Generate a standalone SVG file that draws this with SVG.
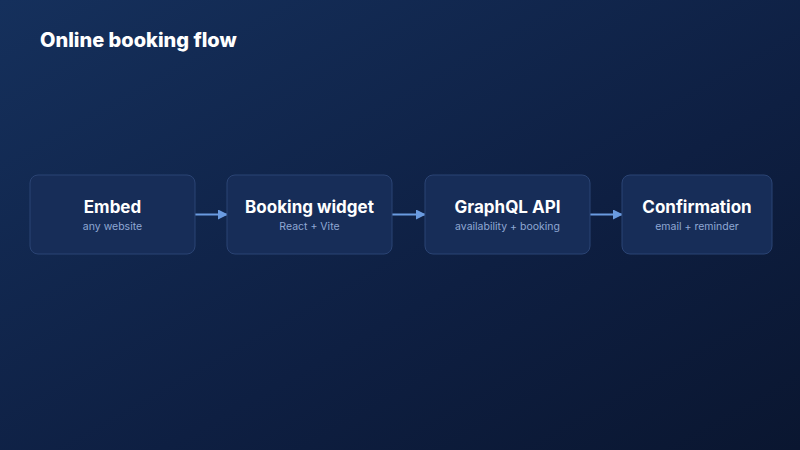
<svg xmlns="http://www.w3.org/2000/svg" width="800" height="450" viewBox="0 0 800 450">
<defs>
<linearGradient id="bg" x1="0" y1="0" x2="1" y2="1">
<stop offset="0" stop-color="#15305c"/>
<stop offset="0.6" stop-color="#0e1f42"/>
<stop offset="1" stop-color="#0a1630"/>
</linearGradient>
<marker id="ah" viewBox="0 0 10 10" refX="9" refY="5" markerWidth="10" markerHeight="10" markerUnits="userSpaceOnUse" orient="auto">
<path d="M0,0 L10,5 L0,10 z" fill="#6a9be0"/>
</marker>
<style>
.box{fill:#172d58;stroke:#2b4474;stroke-width:1}
.t{font-family:Inter,"Noto Sans",sans-serif;font-weight:700;font-size:17px;fill:#ffffff;text-anchor:middle}
.s{font-family:Inter,"Noto Sans",sans-serif;font-size:10.5px;fill:#8fa8d4;text-anchor:middle}
.c{stroke:#6a9be0;stroke-width:2;fill:none}
</style>
</defs>
<rect width="800" height="450" fill="url(#bg)"/>
<text x="40" y="47" font-family="Inter,'Noto Sans',sans-serif" font-weight="800" font-size="20" fill="#ffffff">Online booking flow</text>
<g id="connectors">
<line class="c" x1="195" y1="214.5" x2="227" y2="214.5" marker-end="url(#ah)"/>
<line class="c" x1="392" y1="214.5" x2="425" y2="214.5" marker-end="url(#ah)"/>
<line class="c" x1="590" y1="214.5" x2="622" y2="214.5" marker-end="url(#ah)"/>
</g>
<g id="embed"><rect class="box" x="30" y="175" width="165" height="79" rx="8"/><text class="t" x="112.5" y="213">Embed</text><text class="s" x="112.5" y="230">any website</text></g>
<g id="widget"><rect class="box" x="227" y="175" width="165" height="79" rx="8"/><text class="t" x="309.5" y="213">Booking widget</text><text class="s" x="309.5" y="230">React + Vite</text></g>
<g id="api"><rect class="box" x="425" y="175" width="165" height="79" rx="8"/><text class="t" x="507.5" y="213">GraphQL API</text><text class="s" x="507.5" y="230">availability + booking</text></g>
<g id="confirm"><rect class="box" x="622" y="175" width="150" height="79" rx="8"/><text class="t" x="697" y="213">Confirmation</text><text class="s" x="697" y="230">email + reminder</text></g>
</svg>
